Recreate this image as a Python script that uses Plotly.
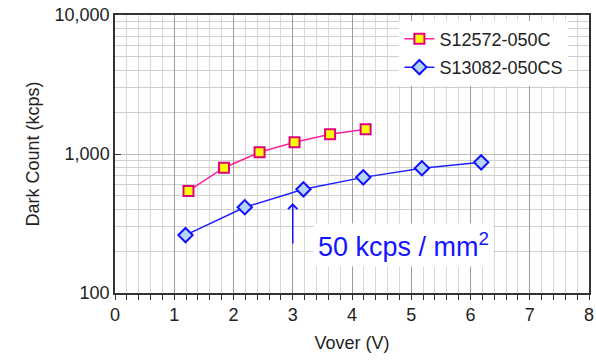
import plotly.graph_objects as go
import math

# Data
x_s12572 = [1.24, 1.84, 2.44, 3.03, 3.63, 4.23]
y_s12572 = [542, 797, 1028, 1214, 1386, 1506]
x_s13082 = [1.19, 2.19, 3.18, 4.19, 5.18, 6.18]
y_s13082 = [261, 414, 557, 679, 789, 871]
name_a = "S12572-050C"
name_b = "S13082-050CS"
y_tickvals = [100, 1000, 10000]
y_ticktext = ["100", "1,000", "10,000"]
x_tickvals = [0, 1, 2, 3, 4, 5, 6, 7, 8]

FONT = "Arial, 'Liberation Sans', sans-serif"

fig = go.Figure()
fig.add_trace(go.Scatter(
    x=x_s12572, y=y_s12572, name=name_a, mode="lines+markers",
    line=dict(color="#ff1f9a", width=1.5),
    marker=dict(symbol="square", size=10, color="#ffff00",
                line=dict(color="#e0007f", width=2)),
    legendgroup="a",
))
fig.add_trace(go.Scatter(
    x=x_s13082, y=y_s13082, name=name_b, mode="lines+markers",
    line=dict(color="#1f1fff", width=1.5),
    marker=dict(symbol="diamond", size=11, color="#b8d4f4",
                line=dict(color="#1010ff", width=2)),
    legendgroup="b",
))

# Arrow
fig.add_annotation(x=3, y=math.log10(444), xref="x", yref="y",
                   text="", showarrow=True, ax=0, ay=42,
                   arrowhead=4, arrowsize=1.2, arrowwidth=1.5,
                   arrowcolor="#1515ff")
# Label
fig.add_annotation(x=4.87, y=math.log10(222), xref="x", yref="y",
                   text="50 kcps / mm<sup>2</sup>", showarrow=False,
                   font=dict(family=FONT, size=27, color="#1515ff"),
                   bgcolor="white", borderpad=4)

fig.update_layout(
    width=596, height=364,
    margin=dict(l=115, r=2, t=15, b=71),
    paper_bgcolor="white", plot_bgcolor="white",
    font=dict(family=FONT, size=18, color="#222"),
    showlegend=True,
    legend=dict(x=0.6, y=0.98, xanchor="left", yanchor="top",
                bgcolor="white", borderwidth=0,
                font=dict(family=FONT, size=18, color="#222"),
                traceorder="grouped", tracegroupgap=2,
                itemwidth=30),
)
fig.update_xaxes(
    range=[0, 8], tickvals=x_tickvals,
    showgrid=True, gridcolor="#9a9a9a", gridwidth=1,
    ticks="outside", ticklen=5, tickcolor="#333",
    showline=True, linecolor="#333", linewidth=1.5, mirror=True,
    zeroline=False, ticklabeloverflow="allow",
    minor=dict(dtick=0.2, showgrid=True, gridcolor="#d9d9d9",
               ticks="outside", ticklen=5, tickcolor="#333"),
    title=dict(text="Vover (V)", font=dict(size=18), standoff=12),
    tickfont=dict(size=18),
)
fig.update_yaxes(
    type="log", range=[2, 4], tickvals=y_tickvals, ticktext=y_ticktext,
    showgrid=True, gridcolor="#bdbdbd", gridwidth=1,
    ticks="inside", ticklen=6, tickcolor="#333",
    showline=True, linecolor="#333", linewidth=1.5, mirror=True,
    zeroline=False,
    minor=dict(dtick="D1", showgrid=True, gridcolor="#cfcfcf", ticks=""),
    title=dict(text="Dark Count (kcps)", font=dict(size=18), standoff=10),
    tickfont=dict(size=18),
)

fig.write_html("out.html")
